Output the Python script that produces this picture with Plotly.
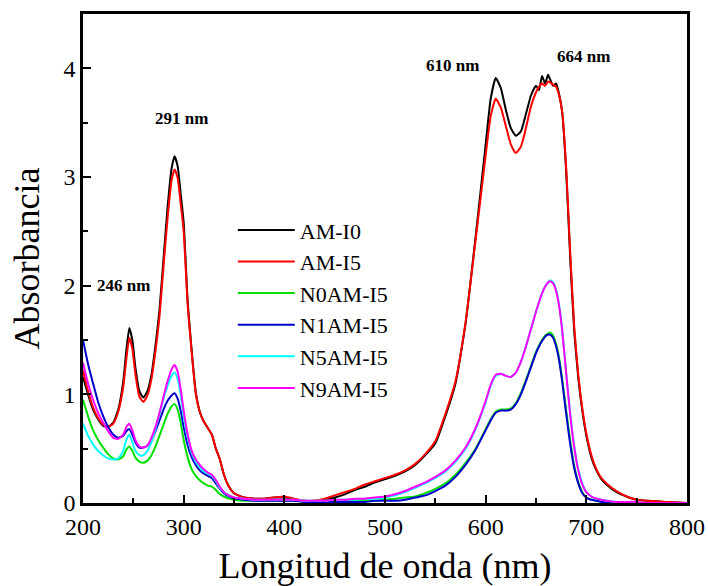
import plotly.graph_objects as go

wl = [200, 205, 210, 215, 220, 225, 230, 235, 240, 243, 246, 249, 252, 256, 260, 264, 268, 272, 276, 280,
      284, 288, 291, 294, 297, 300, 304, 308, 312, 316, 320, 324, 328, 332, 336, 340, 345, 350, 360, 370,
      380, 390, 400, 410, 420, 430, 440, 450, 460, 470, 480, 490, 500, 510, 520, 530, 540, 550, 560, 570,
      580, 590, 600, 605, 610, 615, 620, 625, 630, 635, 640, 645, 650, 653, 656, 659, 662, 664, 667, 670,
      673, 676, 680, 684, 688, 692, 696, 700, 705, 710, 715, 720, 730, 740, 750, 760, 780, 800]

am_i0 = [1.16, 1.00, 0.86, 0.77, 0.71, 0.70, 0.74, 0.86, 1.12, 1.40, 1.61, 1.50, 1.25, 1.03, 0.97, 1.03, 1.18, 1.45, 1.78, 2.25,
         2.72, 3.08, 3.19, 3.10, 2.85, 2.58, 1.85, 1.40, 1.02, 0.84, 0.75, 0.69, 0.63, 0.50, 0.40, 0.26, 0.15, 0.09, 0.05, 0.04,
         0.04, 0.05, 0.05, 0.03, 0.02, 0.02, 0.03, 0.05, 0.08, 0.12, 0.15, 0.19, 0.22, 0.25, 0.29, 0.35, 0.44, 0.55, 0.80, 1.10,
         1.65, 2.45, 3.30, 3.72, 3.91, 3.82, 3.62, 3.45, 3.38, 3.42, 3.58, 3.75, 3.84, 3.80, 3.93, 3.86, 3.94, 3.90, 3.84, 3.86,
         3.76, 3.60, 3.05, 2.25, 1.58, 1.15, 0.85, 0.62, 0.42, 0.30, 0.22, 0.17, 0.10, 0.06, 0.03, 0.02, 0.01, 0.00]

am_i5 = [1.22, 1.03, 0.88, 0.78, 0.72, 0.70, 0.73, 0.84, 1.07, 1.32, 1.52, 1.42, 1.19, 0.98, 0.93, 0.99, 1.14, 1.40, 1.72, 2.18,
         2.62, 2.97, 3.07, 2.99, 2.76, 2.50, 1.82, 1.38, 1.01, 0.84, 0.75, 0.69, 0.63, 0.50, 0.40, 0.26, 0.15, 0.09, 0.05, 0.04,
         0.04, 0.05, 0.06, 0.04, 0.02, 0.02, 0.04, 0.07, 0.10, 0.13, 0.17, 0.20, 0.23, 0.26, 0.30, 0.36, 0.45, 0.57, 0.82, 1.12,
         1.66, 2.42, 3.20, 3.56, 3.72, 3.64, 3.47, 3.30, 3.22, 3.28, 3.45, 3.65, 3.78, 3.83, 3.86, 3.84, 3.88, 3.87, 3.85, 3.83,
         3.75, 3.60, 3.08, 2.30, 1.62, 1.18, 0.87, 0.64, 0.44, 0.31, 0.23, 0.18, 0.11, 0.06, 0.03, 0.02, 0.01, 0.00]

n0am_i5 = [0.95, 0.80, 0.67, 0.58, 0.51, 0.45, 0.41, 0.40, 0.43, 0.49, 0.52, 0.48, 0.42, 0.38, 0.37, 0.39, 0.44, 0.52, 0.62, 0.72,
           0.82, 0.89, 0.91, 0.86, 0.74, 0.58, 0.42, 0.31, 0.25, 0.21, 0.18, 0.16, 0.15, 0.12, 0.08, 0.06, 0.04, 0.03, 0.02, 0.02,
           0.02, 0.02, 0.02, 0.02, 0.01, 0.01, 0.01, 0.01, 0.02, 0.02, 0.02, 0.02, 0.03, 0.04, 0.05, 0.06, 0.09, 0.13, 0.18, 0.26,
           0.37, 0.50, 0.68, 0.77, 0.84, 0.86, 0.86, 0.87, 0.92, 1.01, 1.13, 1.26, 1.39, 1.45, 1.50, 1.54, 1.56, 1.57, 1.54, 1.46,
           1.33, 1.14, 0.85, 0.57, 0.34, 0.19, 0.10, 0.05, 0.03, 0.02, 0.01, 0.01, 0.00, 0.00, 0.00, 0.00, 0.00, 0.00]

n1am_i5 = [1.50, 1.28, 1.10, 0.93, 0.80, 0.70, 0.63, 0.60, 0.62, 0.66, 0.68, 0.63, 0.56, 0.51, 0.51, 0.53, 0.58, 0.66, 0.76, 0.86,
           0.94, 0.99, 1.01, 0.96, 0.85, 0.70, 0.53, 0.42, 0.35, 0.30, 0.27, 0.25, 0.23, 0.18, 0.13, 0.09, 0.06, 0.04, 0.03, 0.02,
           0.02, 0.02, 0.02, 0.02, 0.01, 0.01, 0.01, 0.01, 0.01, 0.01, 0.01, 0.02, 0.02, 0.02, 0.03, 0.05, 0.07, 0.11, 0.16, 0.24,
           0.35, 0.49, 0.67, 0.76, 0.83, 0.85, 0.85, 0.86, 0.91, 1.00, 1.12, 1.25, 1.38, 1.44, 1.49, 1.53, 1.55, 1.55, 1.52, 1.44,
           1.31, 1.12, 0.82, 0.54, 0.32, 0.18, 0.09, 0.05, 0.03, 0.02, 0.01, 0.01, 0.00, 0.00, 0.00, 0.00, 0.00, 0.00]

n5am_i5 = [0.73, 0.62, 0.54, 0.48, 0.44, 0.41, 0.40, 0.41, 0.48, 0.58, 0.63, 0.56, 0.48, 0.44, 0.44, 0.48, 0.56, 0.68, 0.82, 0.96,
           1.08, 1.17, 1.20, 1.14, 1.00, 0.80, 0.60, 0.46, 0.38, 0.33, 0.29, 0.27, 0.25, 0.20, 0.14, 0.10, 0.07, 0.05, 0.04, 0.03,
           0.03, 0.03, 0.03, 0.03, 0.02, 0.02, 0.02, 0.03, 0.03, 0.03, 0.04, 0.04, 0.05, 0.07, 0.10, 0.14, 0.18, 0.23, 0.29, 0.38,
           0.50, 0.68, 0.93, 1.08, 1.17, 1.19, 1.17, 1.16, 1.20, 1.30, 1.44, 1.60, 1.76, 1.85, 1.93, 1.99, 2.03, 2.05, 2.03, 1.96,
           1.82, 1.60, 1.20, 0.82, 0.52, 0.31, 0.18, 0.10, 0.06, 0.04, 0.03, 0.02, 0.01, 0.01, 0.01, 0.00, 0.00, 0.00]

n9am_i5 = [1.29, 1.10, 0.95, 0.83, 0.74, 0.66, 0.60, 0.59, 0.63, 0.70, 0.73, 0.67, 0.58, 0.52, 0.51, 0.53, 0.60, 0.70, 0.83, 0.98,
           1.12, 1.23, 1.27, 1.21, 1.05, 0.85, 0.63, 0.48, 0.40, 0.35, 0.31, 0.28, 0.26, 0.21, 0.15, 0.10, 0.07, 0.05, 0.04, 0.03,
           0.03, 0.03, 0.03, 0.03, 0.02, 0.02, 0.02, 0.03, 0.03, 0.04, 0.04, 0.05, 0.06, 0.08, 0.11, 0.15, 0.19, 0.24, 0.30, 0.39,
           0.51, 0.69, 0.94, 1.09, 1.18, 1.19, 1.17, 1.16, 1.20, 1.30, 1.44, 1.60, 1.76, 1.85, 1.93, 1.99, 2.03, 2.04, 2.02, 1.95,
           1.81, 1.59, 1.19, 0.81, 0.51, 0.30, 0.17, 0.10, 0.06, 0.04, 0.03, 0.02, 0.01, 0.01, 0.01, 0.00, 0.00, 0.00]

series_names = ["AM-I0", "AM-I5", "N0AM-I5", "N1AM-I5", "N5AM-I5", "N9AM-I5"]
series_vals = [am_i0, am_i5, n0am_i5, n1am_i5, n5am_i5, n9am_i5]
colors = ["#000000", "#ff0000", "#00e000", "#0000cc", "#00ffff", "#ff00ff"]

peak_labels = ["246 nm", "291 nm", "610 nm", "664 nm"]
peak_x = [240, 298, 567, 697]
peak_y = [2.00, 3.54, 4.03, 4.11]

FONT = "Times New Roman, Liberation Serif, serif"

fig = go.Figure()
for i in range(len(series_names)):
    fig.add_trace(go.Scatter(x=wl, y=series_vals[i], mode="lines", name=series_names[i],
                             line=dict(color=colors[i], width=2, shape="spline", smoothing=0.5)))

for t, x, y in zip(peak_labels, peak_x, peak_y):
    fig.add_annotation(x=x, y=y, text="<b>%s</b>" % t, showarrow=False,
                       font=dict(family=FONT, size=17, color="black"))

fig.update_layout(
    width=708, height=586,
    margin=dict(l=83, r=21, t=14, b=83),
    paper_bgcolor="white", plot_bgcolor="white",
    font=dict(family=FONT, color="black"),
    showlegend=True,
    legend=dict(x=0.248, y=0.601, xanchor="left", yanchor="top", bgcolor="rgba(0,0,0,0)",
                font=dict(family=FONT, size=22), itemwidth=57, tracegroupgap=0),
)
fig.update_xaxes(range=[200, 800], dtick=100, tick0=200, showgrid=False, zeroline=False, automargin=False,
                 showline=True, linecolor="black", linewidth=2.5, mirror=True,
                 ticks="inside", ticklen=8, tickwidth=2, tickcolor="black",
                 minor=dict(ticks="inside", dtick=50, ticklen=5, tickwidth=2, tickcolor="black"),
                 tickfont=dict(family=FONT, size=24),
                 title=dict(text="Longitud de onda (nm)", font=dict(family=FONT, size=36), standoff=25))
fig.update_yaxes(range=[0, 4.5], dtick=1, tick0=0, showgrid=False, zeroline=False, automargin=False,
                 showline=True, linecolor="black", linewidth=2.5, mirror=True,
                 ticks="inside", ticklen=8, tickwidth=2, tickcolor="black",
                 minor=dict(ticks="inside", dtick=0.5, ticklen=5, tickwidth=2, tickcolor="black"),
                 tickfont=dict(family=FONT, size=24),
                 title=dict(text="Absorbancia", font=dict(family=FONT, size=36), standoff=13))

fig.write_html("out.html")
